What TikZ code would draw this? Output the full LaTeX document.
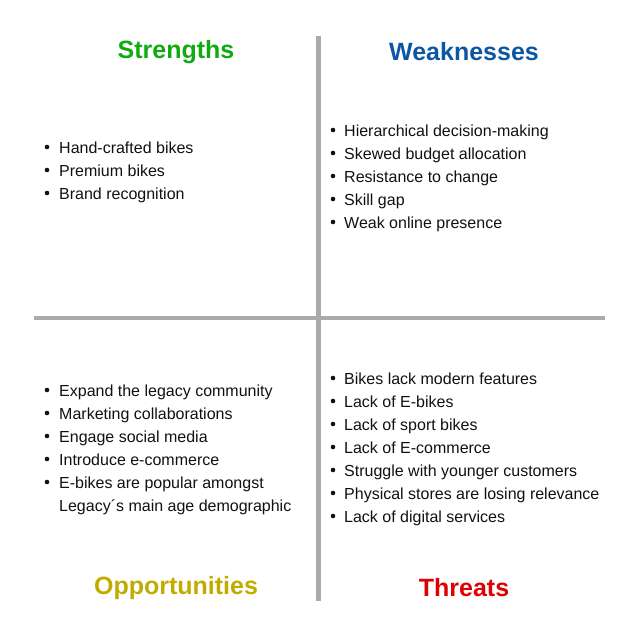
\documentclass[tikz,border=0pt]{standalone}
\usepackage{fontspec}
\setmainfont{Liberation Sans}
\usepackage{xcolor}
\definecolor{swotgreen}{RGB}{17, 170, 17}
\definecolor{swotblue}{RGB}{12, 87, 163}
\definecolor{swotolive}{RGB}{192, 172, 0}
\definecolor{swotred}{RGB}{225, 0, 0}
\definecolor{divider}{RGB}{170, 170, 170}
\definecolor{ink}{RGB}{17, 17, 17}
\tikzset{
  title/.style={font=\fontsize{25}{30}\selectfont\bfseries},
  item/.style={anchor=base west, inner sep=0pt, text=ink,
    font=\fontsize{16}{23}\selectfont},
  dot/.style={fill=ink},
  divline/.style={divider, line width=4.5pt}
}
\begin{document}
\begin{tikzpicture}[x=1pt, y=-1pt]
  \useasboundingbox (0,0) rectangle (643,637);
  % dividers
  \coordinate (vtop) at (318.5,36);
  \coordinate (vbot) at (318.5,601);
  \coordinate (hleft) at (34,318);
  \coordinate (hright) at (605,318);
  \draw[divline] (vtop) -- (vbot);
  \draw[divline] (hleft) -- (hright);
  % titles
  \node[title, text=swotgreen] (strengths) at (176,52) {Strengths};
  \node[title, text=swotblue] (weaknesses) at (464,52) {Weaknesses};
  \node[title, text=swotolive] (opportunities) at (176,588) {Opportunities};
  \node[title, text=swotred] (threats) at (464,588) {Threats};
  % strengths
  \foreach \txt [count=\i] in {Hand-crafted bikes, Premium bikes, Brand recognition} {
    \fill[dot] (47,147+23*\i-23) circle (2.3pt);
    \node[item] (s\i) at (59,153+23*\i-23) {\txt};
  }
  % weaknesses
  \foreach \txt [count=\i] in {Hierarchical decision-making, Skewed budget allocation,
      Resistance to change, Skill gap, Weak online presence} {
    \fill[dot] (333,130+23*\i-23) circle (2.3pt);
    \node[item] (w\i) at (344,136+23*\i-23) {\txt};
  }
  % opportunities
  \foreach \txt [count=\i] in {Expand the legacy community, Marketing collaborations,
      Engage social media, Introduce e-commerce,
      {\begin{tabular}[t]{@{}l@{}}E-bikes are popular amongst\\Legacy´s main age demographic\end{tabular}}} {
    \fill[dot] (47,390+23*\i-23) circle (2.3pt);
    \node[item] (o\i) at (59,396+23*\i-23) {\txt};
  }
  % threats
  \foreach \txt [count=\i] in {Bikes lack modern features, Lack of E-bikes,
      Lack of sport bikes, Lack of E-commerce, Struggle with younger customers,
      Physical stores are losing relevance, Lack of digital services} {
    \fill[dot] (333,378+23*\i-23) circle (2.3pt);
    \node[item] (t\i) at (344,384+23*\i-23) {\txt};
  }
\end{tikzpicture}
\end{document}
